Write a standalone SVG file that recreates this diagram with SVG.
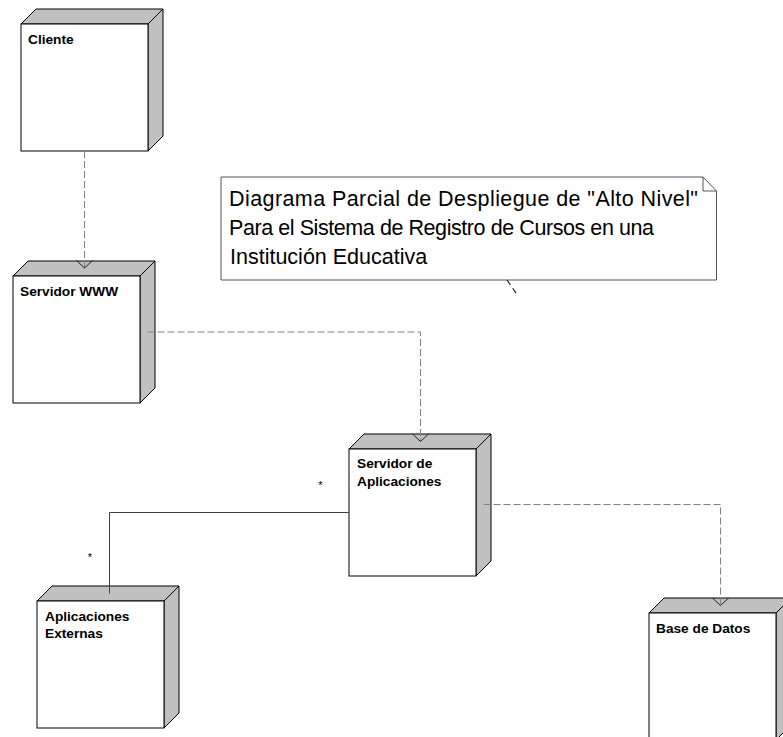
<svg xmlns="http://www.w3.org/2000/svg" width="783" height="737" viewBox="0 0 783 737">
  <style>
    .front { fill: #ffffff; stroke: #000000; stroke-width: 1; }
    .shade { fill: #c0c0c0; stroke: #000000; stroke-width: 1; stroke-linejoin: miter; }
    .label { font-family: "Liberation Sans", Arial, sans-serif; font-weight: bold; font-size: 13.7px; fill: #000000; }
    .dep { fill: none; stroke: #808080; stroke-width: 1; stroke-dasharray: 7 3; }
    .assoc { fill: none; stroke: #404040; stroke-width: 1; }
    .mult { font-family: "Liberation Sans", Arial, sans-serif; font-size: 11px; fill: #000000; }
    .note { fill: #ffffff; stroke: #555555; stroke-width: 1; }
    .notetext { font-family: "Liberation Sans", Arial, sans-serif; font-size: 21.5px; fill: #000000; }
  </style>
  <defs>
    <!-- open V arrowhead for dependencies -->
    <marker id="open" markerUnits="userSpaceOnUse" markerWidth="20" markerHeight="20" refX="0" refY="0" viewBox="-10 -10 20 20" orient="auto" overflow="visible">
      <path d="M -7.5 -8 L 0 0 L -7.5 8" fill="none" stroke="#222222" stroke-width="1"/>
    </marker>
    <!-- 3D node box, front face at (0,0) 127x127, depth 15 -->
    <g id="nodeBox">
      <polygon class="shade" points="0,0 15,-15 142,-15 127,0"/>
      <polygon class="shade" points="127,0 142,-15 142,112 127,127"/>
      <rect class="front" x="0" y="0" width="127" height="127"/>
    </g>
  </defs>

  <rect width="783" height="737" fill="#ffffff"/>

  <!-- nodes -->
  <g id="cliente" transform="translate(21,24)">
    <use href="#nodeBox"/>
    <text class="label" x="7" y="20">Cliente</text>
  </g>

  <g id="servidor-www" transform="translate(13,276)">
    <use href="#nodeBox"/>
    <text class="label" x="7" y="20">Servidor WWW</text>
  </g>

  <g id="servidor-aplicaciones" transform="translate(349,449)">
    <use href="#nodeBox"/>
    <text class="label" x="8" y="19">Servidor de</text>
    <text class="label" x="8" y="37">Aplicaciones</text>
  </g>

  <g id="aplicaciones-externas" transform="translate(37,601)">
    <use href="#nodeBox"/>
    <text class="label" x="8" y="20">Aplicaciones</text>
    <text class="label" x="8" y="37">Externas</text>
  </g>

  <g id="base-datos" transform="translate(649,613)">
    <use href="#nodeBox"/>
    <text class="label" x="7" y="20">Base de Datos</text>
  </g>

  <!-- note -->
  <g id="nota">
    <path class="note" d="M 221 177 L 703 177 L 716.5 191 L 716.5 280 L 221 280 Z"/>
    <path d="M 703 177 L 703 191 L 716.5 191" fill="none" stroke="#555555" stroke-width="1"/>
    <text class="notetext" x="229" y="206" textLength="469" lengthAdjust="spacing">Diagrama Parcial de Despliegue de "Alto Nivel"</text>
    <text class="notetext" x="229" y="235" textLength="425" lengthAdjust="spacing">Para el Sistema de Registro de Cursos en una</text>
    <text class="notetext" x="230" y="264">Institución Educativa</text>
  </g>

  <!-- connectors -->
  <g id="connectors">
    <path class="dep" d="M 84.5 151 L 84.5 268" marker-end="url(#open)"/>
    <path class="dep" d="M 147.5 332 L 420.5 332 L 420.5 441.5" marker-end="url(#open)"/>
    <path class="dep" d="M 483.5 504.5 L 720.5 504.5 L 720.5 605.5" marker-end="url(#open)"/>
    <path class="assoc" d="M 349 512.5 L 109.5 512.5 L 109.5 593.5"/>
    <text class="mult" x="320.5" y="489" text-anchor="middle">*</text>
    <text class="mult" x="90" y="561" text-anchor="middle">*</text>
    <path d="M 507 280 L 518 296" fill="none" stroke="#222222" stroke-width="1.2" stroke-dasharray="6 4"/>
  </g>
</svg>
